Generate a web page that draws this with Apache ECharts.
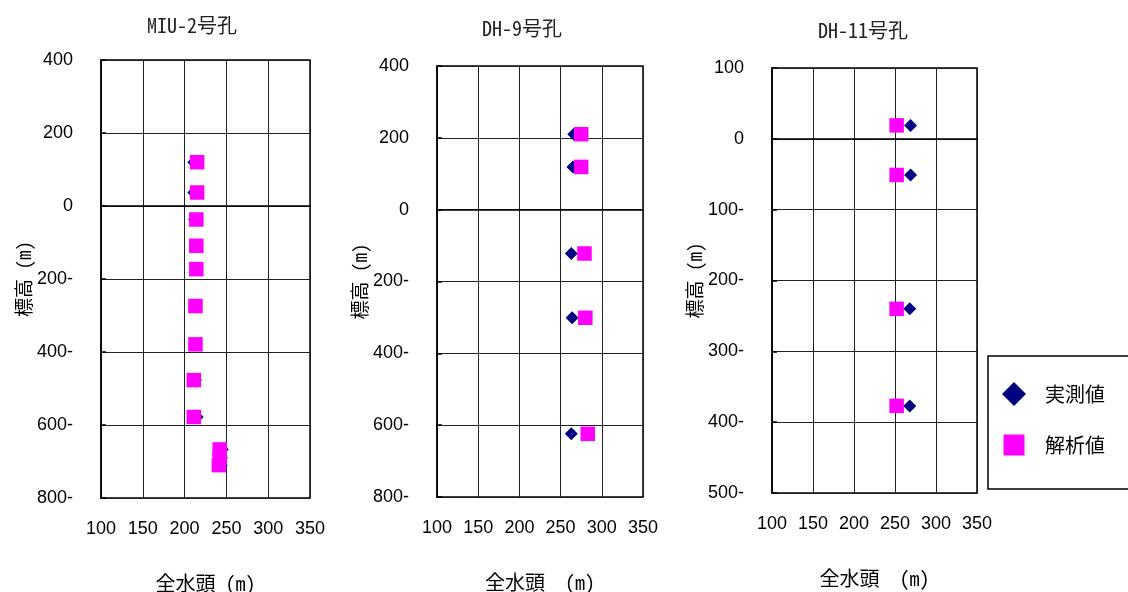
<!DOCTYPE html>
<html>
<head>
<meta charset="utf-8">
<script src="https://cdn.jsdelivr.net/npm/echarts@6/dist/echarts.min.js"></script>
<style>
  html, body { margin: 0; padding: 0; background: #fff; }
  #chart { width: 1128px; height: 592px; }
</style>
</head>
<body>
<div id="chart"></div>
<script>
// Borehole names
const holeNames = ['MIU-2号孔', 'DH-9号孔', 'DH-11号孔'];
const seriesNames = ['実測値', '解析値'];

// MIU-2: elevation (m) and total head (m)
const miuElev     = [120, 37, -37, -109, -173, -274, -379, -477, -578, -667, -690, -710];
const miuMeasured = [211, 211, 212, 213, 213, 212, 212, 213, 215, 245, 244, 244];
const miuAnalysis = [215, 215, 214, 214, 214, 213, 213, 211, 211, 242, 242, 241];

// DH-9
const dh9Elev     = [210, 119, -122, -301, -624];
const dh9Measured = [266, 265, 263, 264, 263];
const dh9Analysis = [275, 275, 279, 280, 283];

// DH-11
const dh11Elev     = [19, -51, -240, -377];
const dh11Measured = [269, 269, 268, 268];
const dh11Analysis = [252, 252, 252, 252];

// Axis ranges
const headRange = { min: 100, max: 350, interval: 50 };
const elevRanges = [
  { min: -800, max: 400, interval: 200 },
  { min: -800, max: 400, interval: 200 },
  { min: -500, max: 100, interval: 100 }
];

const panels = [
  { elev: miuElev,  meas: miuMeasured,  anal: miuAnalysis,  xName: '全水頭 (m)' },
  { elev: dh9Elev,  meas: dh9Measured,  anal: dh9Analysis,  xName: '全水頭  (m)' },
  { elev: dh11Elev, meas: dh11Measured, anal: dh11Analysis, xName: '全水頭  (m)' }
];

const gridBoxes = [
  { left: 101, top: 60, width: 209, height: 438 },
  { left: 437, top: 66, width: 206, height: 431 },
  { left: 772, top: 68, width: 205, height: 425 }
];
const titlePos = [[192, 25], [522, 28], [863, 30]];

const monoCJK = "'Noto Sans Mono CJK JP', 'Noto Sans CJK JP', sans-serif";
const tickFont = "'Liberation Sans', Arial, sans-serif";

const elevLabel = v => (v < 0 ? (-v) + '-' : String(v));

const option = {
  animation: false,
  backgroundColor: '#fff',
  grid: gridBoxes.map(g => Object.assign({
    show: true, borderColor: '#000', borderWidth: 1.5, backgroundColor: '#fff',
    containLabel: false, outerBoundsMode: 'none'
  }, g)),
  xAxis: panels.map((p, i) => ({
    type: 'value', gridIndex: i,
    min: headRange.min, max: headRange.max, interval: headRange.interval,
    name: p.xName, nameLocation: 'middle', nameGap: 75,
    nameTextStyle: { fontFamily: monoCJK, fontSize: 20, color: '#000' },
    axisLine: { show: true, lineStyle: { color: '#000', width: 1.5 } },
    axisTick: { show: false },
    axisLabel: { fontFamily: tickFont, fontSize: 18, color: '#000', margin: 22 },
    splitLine: { show: true, lineStyle: { color: '#222', width: 1 } }
  })),
  yAxis: panels.map((p, i) => ({
    type: 'value', gridIndex: i,
    min: elevRanges[i].min, max: elevRanges[i].max, interval: elevRanges[i].interval,
    name: '標高 (m)', nameLocation: 'middle', nameGap: 68, nameRotate: 90,
    nameTextStyle: { fontFamily: monoCJK, fontSize: 19, color: '#000' },
    axisLine: { show: true, lineStyle: { color: '#000', width: 1.5 } },
    axisTick: { show: true, inside: true, length: 5, lineStyle: { color: '#000', width: 1.5 } },
    axisLabel: { fontFamily: tickFont, fontSize: 18, color: '#000', margin: 28, padding: [8, 0, 0, 0], formatter: elevLabel },
    splitLine: { show: true, lineStyle: { color: '#222', width: 1 } }
  })),
  legend: {
    orient: 'vertical', left: 988, top: 356,
    padding: [26, 70, 32, 14], itemGap: 27, itemWidth: 24, itemHeight: 24,
    borderColor: '#000', borderWidth: 1.5, backgroundColor: '#fff',
    data: [
      { name: seriesNames[0], icon: 'diamond' },
      { name: seriesNames[1], icon: 'path://M0,0M24,24M1.5,1.5L22.5,1.5L22.5,22.5L1.5,22.5Z' }
    ],
    textStyle: { fontFamily: "'Noto Sans CJK JP', sans-serif", fontSize: 20, color: '#000', padding: [0, 0, 0, 14] }
  },
  graphic: holeNames.map((t, i) => ({
    type: 'text', x: titlePos[i][0], y: titlePos[i][1],
    style: { text: t, font: '20px ' + monoCJK, fill: '#222', textAlign: 'center', textVerticalAlign: 'middle' }
  })),
  series: []
};

panels.forEach((p, i) => {
  option.series.push({
    name: seriesNames[0], type: 'scatter', xAxisIndex: i, yAxisIndex: i,
    symbol: 'diamond', symbolSize: 13, z: 2,
    itemStyle: { color: '#000080', opacity: 1 },
    emphasis: { disabled: true },
    data: p.meas.map((x, k) => [x, p.elev[k]])
  });
  option.series.push({
    name: seriesNames[1], type: 'scatter', xAxisIndex: i, yAxisIndex: i,
    symbol: 'rect', symbolSize: 14.5, z: 3,
    itemStyle: { color: '#FF00FF', opacity: 1 },
    emphasis: { disabled: true },
    data: p.anal.map((x, k) => [x, p.elev[k]])
  });
});

const chart = echarts.init(document.getElementById('chart'), null, { renderer: 'canvas' });
chart.setOption(option);
</script>
</body>
</html>
